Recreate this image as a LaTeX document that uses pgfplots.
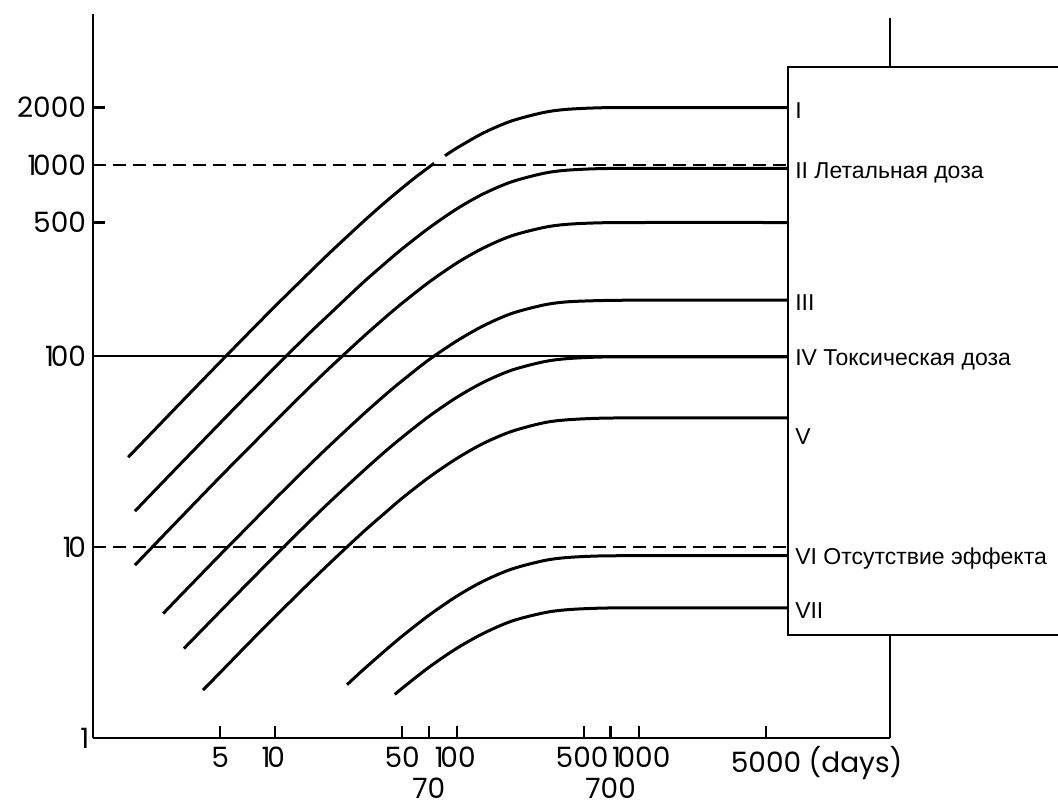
\documentclass[border=0pt]{standalone}
\usepackage{pgfplots}
\pgfplotsset{compat=1.18}
\usepackage{fontspec}
\setmainfont{Liberation Sans}
\newfontfamily\tickfont{Poppins}
% narrower "1", as in the reference's lettering
\newcommand\one{\kern-0.12em1\kern-0.12em}

\tikzset{
  crv/.style={black, line width=1.5pt, smooth, mark=none},
  lvl/.style={black, line width=1.4pt, dash pattern=on 6.5pt off 3.5pt, mark=none},
  lbl/.style={anchor=base west, inner sep=0pt, font=\fontsize{11.5}{13}\selectfont},
}

\begin{document}
\begin{tikzpicture}
\begin{axis}[
  xmode=log, ymode=log,
  scale only axis,
  width=398.5pt, height=362pt,
  xmin=1, xmax=24000, ymin=1, ymax=6180,
  axis x line*=bottom, axis y line*=left,
  axis line style={line width=1.4pt},
  tick align=inside,
  major tick length=6pt,
  tick style={line width=1.2pt, black},
  xtick={5,10,50,100,500,1000,5000},
  xticklabels={5,\one0,50,\one00,\kern-2pt500,\kern4pt\one000,5000\rlap{\ (days)}},
  xticklabel style={inner sep=0pt, yshift=-4.2pt},
  extra x ticks={70,700},
  extra x tick labels={70,700},
  extra x tick style={xticklabel style={yshift=-15.8pt}},
  ytick={1,10,100,500,1000,2000},
  yticklabels={\one,\one0,\one00,500,\one000,2000},
  minor xtick={}, minor ytick={},
  ticklabel style={font=\tickfont\fontsize{14}{16}\selectfont},
  clip=false,
]
% reference levels
\addplot[lvl] coordinates {(1,1000) (6590,1000)};
\addplot[lvl] coordinates {(1,10) (6590,10)};
\addplot[black, line width=1pt, mark=none] coordinates {(1,100) (6590,100)};

% I (broken where it meets the 1000 line)
\addplot[crv] coordinates {(1.56,29.5) (2,37.7) (3,56.3) (5,93.0) (7,129) (10,182) (15,266) (20,347) (30,497) (40,634) (50,758) (60,871) (70,973) (75,1021)};
\addplot[crv] coordinates {(86,1118) (100,1228) (140,1473) (200,1702) (300,1885) (400,1956) (600,1993) (1000,2000) (6590,2000)};
% II
\addplot[crv] coordinates {(1.70,15.4) (2,18.1) (3,27.0) (5,44.6) (7,61.9) (10,87.2) (15,128) (20,166) (30,239) (40,304) (50,364) (70,467) (100,590) (140,707) (200,817) (300,905) (400,939) (600,957) (1000,960) (6590,960)};
% unnamed, 500
\addplot[crv] coordinates {(1.70,8.03) (2,9.44) (3,14.1) (5,23.3) (7,32.2) (10,45.4) (15,66.6) (20,86.7) (30,124) (40,158) (50,189) (70,243) (100,307) (140,368) (200,426) (300,471) (400,489) (600,498) (1000,500) (6590,500)};
% III
\addplot[crv] coordinates {(2.43,4.48) (3,5.52) (5,9.11) (7,12.6) (10,17.8) (15,26.1) (20,34.0) (30,48.7) (40,62.1) (50,74.2) (70,95.4) (100,120) (140,144) (200,167) (300,185) (400,192) (600,195) (1000,196) (6590,196)};
% IV
\addplot[crv] coordinates {(3.16,2.94) (5,4.60) (7,6.38) (10,8.99) (15,13.2) (20,17.2) (30,24.6) (40,31.4) (50,37.5) (70,48.2) (100,60.8) (140,72.9) (200,84.3) (300,93.3) (400,96.8) (600,98.7) (1000,99) (6590,99)};
% V
\addplot[crv] coordinates {(4.02,1.78) (5,2.20) (7,3.06) (10,4.31) (15,6.31) (20,8.22) (30,11.8) (40,15.0) (50,18.0) (70,23.1) (100,29.1) (140,34.9) (200,40.3) (300,44.7) (400,46.3) (600,47.2) (1000,47.4) (6590,47.4)};
% VI
\addplot[crv] coordinates {(24.9,1.90) (30,2.24) (40,2.85) (50,3.41) (70,4.38) (100,5.53) (140,6.63) (200,7.66) (300,8.48) (400,8.80) (600,8.97) (1000,9.0) (6590,9.0)};
% VII
\addplot[crv] coordinates {(45.6,1.69) (50,1.82) (70,2.34) (100,2.95) (140,3.53) (200,4.09) (300,4.52) (400,4.69) (600,4.78) (1000,4.8) (6590,4.8)};

% right spine, then the label box over it
\draw[line width=1.4pt] (rel axis cs:1,0) -- (rel axis cs:1,0.995);
\draw[line width=1.3pt, fill=white] (axis cs:6590,3.46) rectangle (axis cs:1e6,3260);

\node[lbl] at (axis cs:7200,1742) {I};
\node[lbl] at (axis cs:7200,855) {II Летальная доза};
\node[lbl] at (axis cs:7200,174) {III};
\node[lbl] at (axis cs:7200,89.7) {IV Токсическая доза};
\node[lbl] at (axis cs:7200,34.2) {V};
\node[lbl] at (axis cs:7200,8.05) {VI Отсутствие эффекта};
\node[lbl] at (axis cs:7200,4.20) {VII};

\coordinate (pgSW) at (rel axis cs:-0.1167,-0.0897);
\coordinate (pgNE) at (rel axis cs:1.2108,1.0193);
\end{axis}
\pgfresetboundingbox
\path[use as bounding box] (pgSW) rectangle (pgNE);
\end{tikzpicture}
\end{document}
